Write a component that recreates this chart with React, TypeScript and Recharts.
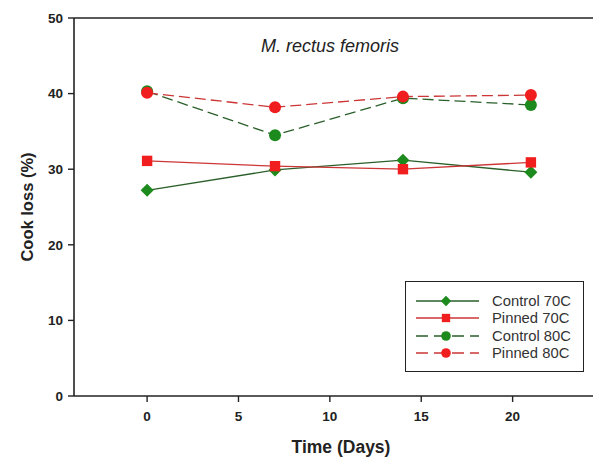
import React from 'react';
import {
  LineChart,
  Line,
  XAxis,
  YAxis,
  ReferenceLine,
  Legend,
} from 'recharts';

// Cook loss of M. rectus femoris over storage time
const days = [0, 7, 14, 21];
const control70 = [27.2, 29.9, 31.2, 29.6];
const pinned70 = [31.1, 30.4, 30.0, 30.9];
const control80 = [40.3, 34.5, 39.4, 38.5];
const pinned80 = [40.1, 38.2, 39.6, 39.8];

const xTicks = [0, 5, 10, 15, 20];
const yTicks = [0, 10, 20, 30, 40, 50];

const data = days.map((day, i) => ({
  day,
  control70: control70[i],
  pinned70: pinned70[i],
  control80: control80[i],
  pinned80: pinned80[i],
}));

const GREEN = '#1d8a1d';
const RED = '#f01e1e';
const GREEN_LINE = '#2a5f2a';
const RED_LINE = '#cc3636';
const FONT = '"Liberation Sans", Arial, Helvetica, sans-serif';

type MarkerKind = 'diamond' | 'square' | 'circle';

const Marker = ({ kind, cx, cy, color, s = 1 }: { kind: MarkerKind; cx: number; cy: number; color: string; s?: number }) => {
  if (kind === 'diamond') {
    const r = 6.5 * s;
    return <polygon points={`${cx},${cy - r} ${cx + r},${cy} ${cx},${cy + r} ${cx - r},${cy}`} fill={color} />;
  }
  if (kind === 'square') {
    const h = 5.2 * s;
    return <rect x={cx - h} y={cy - h} width={h * 2} height={h * 2} fill={color} />;
  }
  return <circle cx={cx} cy={cy} r={6 * s} fill={color} />;
};

const series = [
  { key: 'control70', name: 'Control 70C', marker: 'diamond' as MarkerKind, color: GREEN, line: GREEN_LINE, dash: undefined as string | undefined },
  { key: 'pinned70', name: 'Pinned 70C', marker: 'square' as MarkerKind, color: RED, line: RED_LINE, dash: undefined as string | undefined },
  { key: 'control80', name: 'Control 80C', marker: 'circle' as MarkerKind, color: GREEN, line: GREEN_LINE, dash: '11 5' },
  { key: 'pinned80', name: 'Pinned 80C', marker: 'circle' as MarkerKind, color: RED, line: RED_LINE, dash: '11 5' },
];

const LegendBox = () => (
  <div
    style={{
      width: 179,
      height: 91,
      border: '1.5px solid #222',
      background: '#fff',
      boxSizing: 'border-box',
      paddingTop: 10,
      fontFamily: FONT,
    }}
  >
    {series.map((s) => (
      <div key={s.key} style={{ display: 'flex', alignItems: 'center', height: 17.5 }}>
        <svg width={86} height={16} style={{ display: 'block' }}>
          <line x1={10} x2={73} y1={8} y2={8} stroke={s.line} strokeWidth={1.3} strokeDasharray={s.dash ? '12 6' : undefined} />
          <Marker kind={s.marker} cx={40} cy={8} color={s.color} s={0.8} />
        </svg>
        <span style={{ fontSize: 14.8, color: '#333', lineHeight: '16px' }}>{s.name}</span>
      </div>
    ))}
  </div>
);

const tickStyle = { fontFamily: FONT, fontSize: 13.5, fontWeight: 700, fill: '#222' };

export default function App() {
  return (
    <div style={{ position: 'absolute', left: 0, top: 0, width: 593, height: 461, overflow: 'hidden', background: '#fff' }}>
      <LineChart width={620} height={461} data={data} margin={{ top: 18, right: 16, bottom: 35, left: 0 }}>
        <XAxis
          type="number"
          dataKey="day"
          domain={[-4, 25]}
          ticks={xTicks}
          allowDataOverflow
          axisLine={{ stroke: '#222', strokeWidth: 1.6 }}
          tickLine={{ stroke: '#222', strokeWidth: 1.4 }}
          tickSize={6}
          tickMargin={9}
          tick={tickStyle}
          height={30}
          label={(props: any) => {
            const vb = props.viewBox || {};
            return (
              <text
                x={vb.x + vb.width / 2 + 2}
                y={vb.y + 57}
                textAnchor="middle"
                style={{ fontFamily: FONT, fontSize: 17.5, fontWeight: 700, fill: '#222' }}
              >
                Time (Days)
              </text>
            );
          }}
        />
        <YAxis
          type="number"
          domain={[0, 50]}
          ticks={yTicks}
          width={74}
          axisLine={{ stroke: '#222', strokeWidth: 1.6 }}
          tickLine={{ stroke: '#222', strokeWidth: 1.4 }}
          tickSize={6}
          tickMargin={5}
          tick={tickStyle}
          label={(props: any) => {
            const vb = props.viewBox || {};
            const cx = 27;
            const cy = vb.y + vb.height / 2;
            return (
              <text
                x={cx}
                y={cy}
                textAnchor="middle"
                dominantBaseline="central"
                transform={`rotate(-90 ${cx} ${cy})`}
                style={{ fontFamily: FONT, fontSize: 16.5, fontWeight: 700, fill: '#222' }}
              >
                Cook loss (%)
              </text>
            );
          }}
        />
        <ReferenceLine
          y={50}
          stroke="#222"
          strokeWidth={1.6}
          label={(props: any) => {
            const vb = props.viewBox || {};
            return (
              <text
                x={330}
                y={vb.y + 34}
                textAnchor="middle"
                style={{ fontFamily: FONT, fontSize: 18, fontStyle: 'italic', fill: '#222' }}
              >
                M. rectus femoris
              </text>
            );
          }}
        />
        {series.map((s) => (
          <Line
            key={s.key}
            type="linear"
            dataKey={s.key}
            name={s.name}
            stroke={s.line}
            strokeWidth={1.3}
            strokeDasharray={s.dash}
            isAnimationActive={false}
            dot={(p: any) => <Marker key={`${s.key}-${p.index}`} kind={s.marker} cx={p.cx} cy={p.cy} color={s.color} />}
            activeDot={false}
          />
        ))}
        <Legend
          layout="vertical"
          align="center"
          verticalAlign="middle"
          content={() => <LegendBox />}
          wrapperStyle={{ position: 'absolute', left: 405, top: 281, width: 179, height: 91 }}
        />
      </LineChart>
    </div>
  );
}
